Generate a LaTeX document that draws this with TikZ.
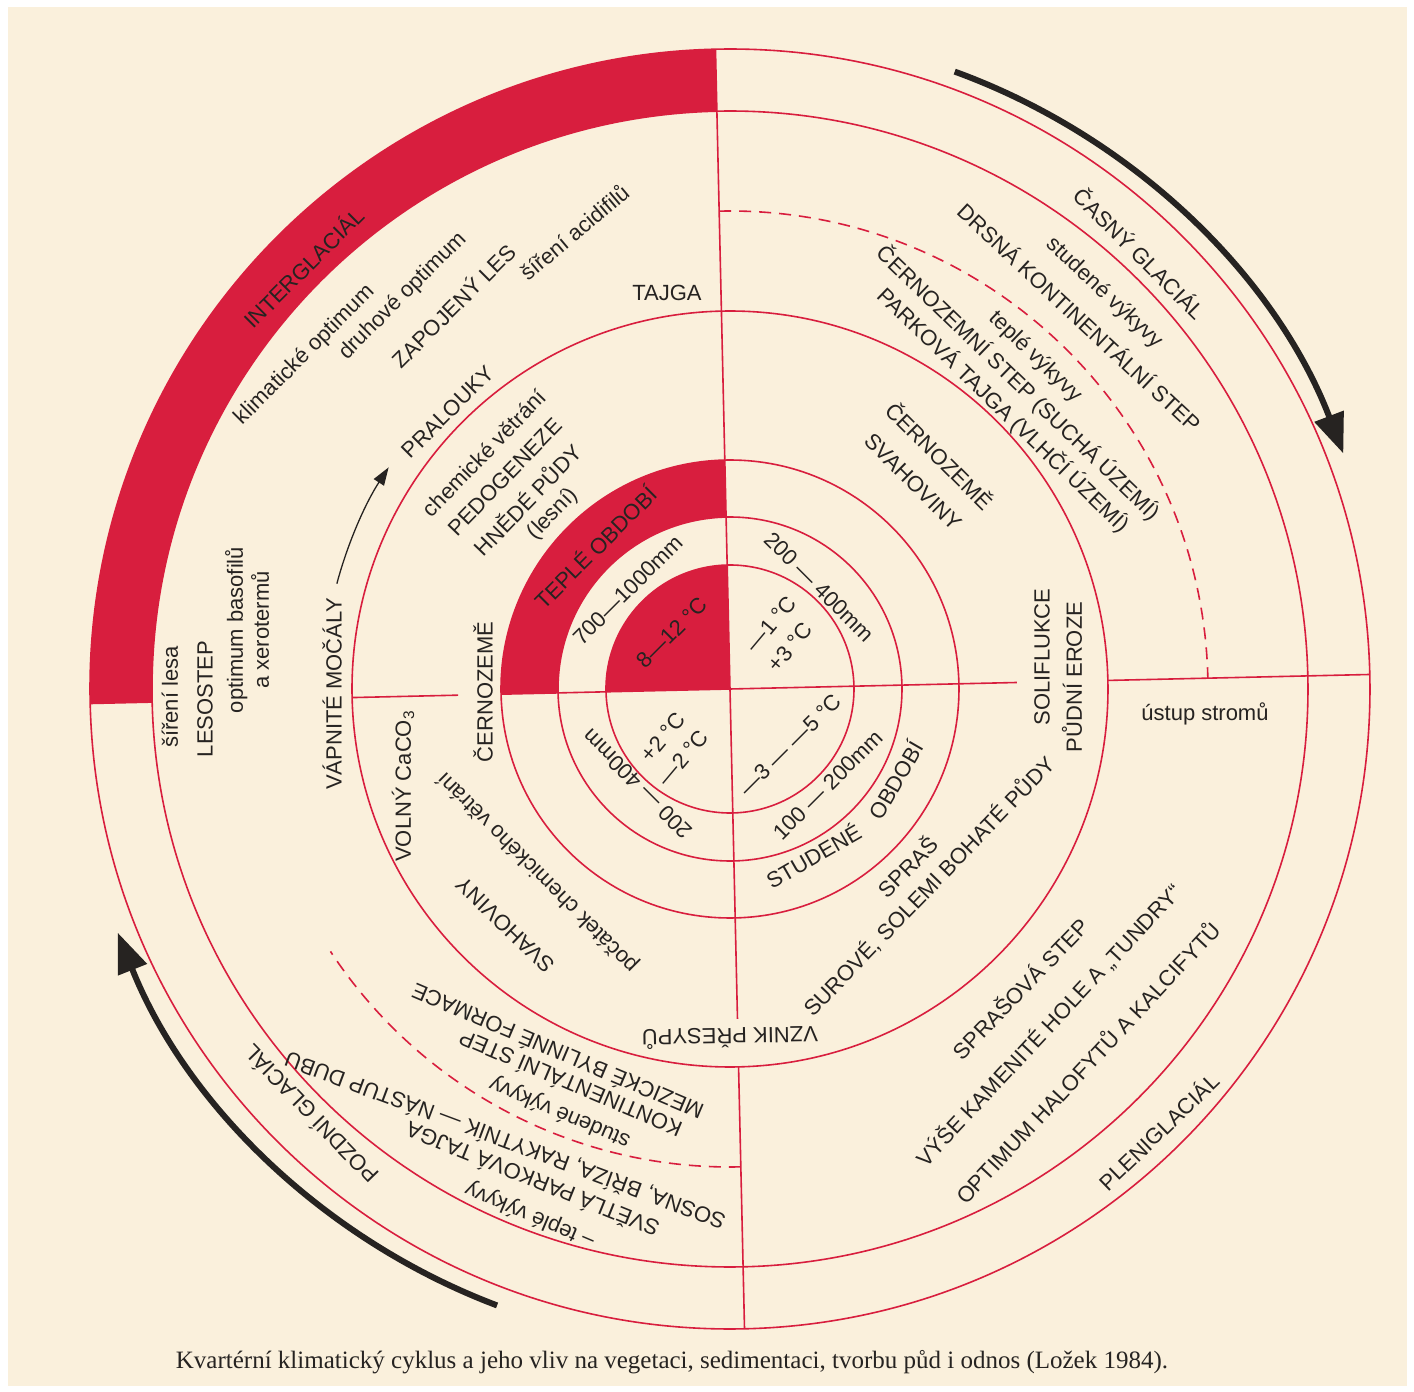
\documentclass[tikz,border=0pt]{standalone}
\usepackage{fontspec}
\setmainfont{Liberation Sans}
\newfontfamily\capfont{Liberation Serif}
\usetikzlibrary{arrows.meta}
\definecolor{cream}{RGB}{250,240,220}
\definecolor{rd}{RGB}{216,30,62}
\definecolor{ink}{RGB}{38,35,33}
\begin{document}
\begin{tikzpicture}[x=0.5pt,y=0.5pt,
  lbl/.style={font=\fontsize{11}{13}\selectfont, text=ink, inner sep=0pt, align=center},
  rl/.style={draw=rd, line width=0.8pt},
  dsh/.style={draw=rd, line width=0.8pt, dash pattern=on 6pt off 4pt},
  bigarrow/.style={draw=ink, line width=3pt, -{Triangle[length=20pt,width=15pt]}},
  thinarrow/.style={draw=ink, line width=0.65pt, -{Triangle[length=9pt,width=6pt]}}
]
\useasboundingbox (-730,-703) rectangle (684,689);
\fill[white] (-730,-703) rectangle (684,689);
\fill[cream] (-722,-697) rectangle (677,682);

\begin{scope}[rotate=1.3]
  % red fills
  \fill[rd] (90:640) arc[start angle=90,end angle=180,radius=640] -- (180:578) arc[start angle=180,end angle=90,radius=578] -- cycle;
  \fill[rd] (90:229) arc[start angle=90,end angle=180,radius=229] -- (180:172) arc[start angle=180,end angle=90,radius=172] -- cycle;
  \fill[rd] (0,0) -- (90:124) arc[start angle=90,end angle=180,radius=124] -- cycle;
  % circles
  \draw[rl] (0,0) circle (640);
  \draw[rl] (0,0) circle (578);
  \draw[rl] (0,0) circle (378);
  \draw[rl] (0,0) circle (229);
  \draw[rl] (0,0) circle (172);
  \draw[rl] (0,0) circle (124);
  % dashed arcs
  \draw[dsh] (90:478) arc[start angle=90,end angle=0,radius=478];
  \draw[dsh] (270:478) arc[start angle=270,end angle=212,radius=478];
  % dividing lines
  \draw[rl] (90:640) -- (270:330);
  \draw[rl] (270:378) -- (270:640);
  \draw[rl] (180:640) -- (180:578);
  \draw[rl] (180:378) -- (180:272);
  \draw[rl] (180:229) -- (0:287);
  \draw[rl] (0:378) -- (0:640);
\end{scope}

% big arrows
\coordinate (a1s) at (70:657);
\draw[bigarrow] (a1s) arc[start angle=70,end angle=21,radius=657];
\coordinate (a2s) at (249.3:659);
\draw[bigarrow] (a2s) arc[start angle=249.3,end angle=201.7,radius=659];
\coordinate (a3s) at (165:407);
\draw[thinarrow] (a3s) arc[start angle=165,end angle=147,radius=407];

% upper-left quadrant
\node[lbl,rotate=45] (n1) at (-427,422) {INTERGLACIÁL};
\node[lbl,rotate=45] (n2) at (-425,334) {klimatické optimum};
\node[lbl,rotate=45] (n3) at (-327,393) {druhové optimum};
\node[lbl,rotate=45] (n4) at (-277,384) {ZAPOJENÝ LES};
\node[lbl,rotate=40] (n5) at (-156,457) {šíření acidifilů};
\node[lbl] (n6) at (-63,396) {TAJGA};
\node[lbl,rotate=45] (n7) at (-282,277) {PRALOUKY};
\node[lbl,rotate=46] (n8) at (-246,236) {chemické větrání};
\node[lbl,rotate=46] (n9) at (-225,212) {PEDOGENEZE};
\node[lbl,rotate=46] (n10) at (-203,190) {HNĚDÉ PŮDY};
\node[lbl,rotate=46] (n11) at (-177,175) {(lesní)};
\node[lbl,rotate=45] (n12) at (-135,142) {TEPLÉ OBDOBÍ};
\node[lbl,rotate=45] (n13) at (-102,99) {700—1000mm};
\node[lbl,rotate=45] (n14) at (-58,56) {8—12 °C};

% left side
\node[lbl,rotate=90] (n15) at (-560,-8) {šíření lesa};
\node[lbl,rotate=90] (n16) at (-525,-10) {LESOSTEP};
\node[lbl,rotate=90] (n17) at (-483,59) {optimum basofilů\\a xerotermů};
\node[lbl,rotate=90] (n19) at (-398,-5) {VÁPNITÉ MOČÁLY};
\node[lbl,rotate=90] (n20) at (-247,-3) {ČERNOZEMĚ};
\node[lbl,rotate=90] (n21) at (-327,-97) {VOLNÝ CaCO\textsubscript{3}};

% lower-left quadrant
\node[lbl,rotate=136] (b1) at (-225,-236) {SVAHOVINY};
\node[lbl,rotate=135] (b2) at (-192,-183) {počátek chemického větrání};
\node[lbl,rotate=135] (b3) at (-93,-95) {200 — 400mm};
\node[lbl,rotate=50] (b4) at (-67,-48) {+2 °C};
\node[lbl,rotate=50] (b5) at (-47,-69) {—2 °C};
\node[lbl,rotate=181] (b6) at (0,-349) {VZNIK PŘESYPŮ};
\node[lbl,rotate=157] (b7) at (-173,-364) {MEZICKÉ BYLINNÉ FORMACE};
\node[lbl,rotate=157] (b8) at (-160,-396) {KONTINENTÁLNÍ STEP};
\node[lbl,rotate=157] (b9) at (-170,-423) {studené výkyvy};
\node[lbl,rotate=159.5] (b10) at (-225,-452) {SOSNA, BŘÍZA, RAKYTNÍK — NÁSTUP DUBU};
\node[lbl,rotate=158] (b11) at (-198,-492) {SVĚTLÁ PARKOVÁ TAJGA};
\node[lbl,rotate=157] (b12) at (-200,-526) {– teplé výkyvy};
\node[lbl,rotate=134] (b13) at (-420,-426) {POZDNÍ GLACIÁL};

% lower-right quadrant
\node[lbl,rotate=45] (c1) at (60,-56) {—3 — —5 °C};
\node[lbl,rotate=45] (c2) at (98,-96) {100 — 200mm};
\node[lbl,rotate=30] (c3) at (83,-166) {STUDENÉ};
\node[lbl,rotate=60] (c4) at (165,-91) {OBDOBÍ};
\node[lbl,rotate=45] (c5) at (177,-177) {SPRAŠ};
\node[lbl,rotate=46] (c6) at (199,-197) {SUROVÉ, SOLEMI BOHATÉ PŮDY};
\node[lbl,rotate=90] (c7) at (312,32) {SOLIFLUKCE};
\node[lbl,rotate=90] (c8) at (342,12) {PŮDNÍ EROZE};
\node[lbl,rotate=46] (c9) at (290,-299) {SPRAŠOVÁ STEP};
\node[lbl,rotate=47] (c10) at (319,-336) {VÝŠE KAMENITÉ HOLE A „TUNDRY“};
\node[lbl,rotate=47] (c11) at (357,-373) {OPTIMUM HALOFYTŮ A KALCIFYTŮ};
\node[lbl,rotate=44] (c12) at (428,-442) {PLENIGLACIÁL};
\node[lbl] (c13) at (475,-25) {ústup stromů};

% upper-right quadrant
\node[lbl,rotate=-45] (d1) at (410,436) {ČASNÝ GLACIÁL};
\node[lbl,rotate=-43] (d2) at (374,396) {studené výkyvy};
\node[lbl,rotate=-43] (d3) at (350,372) {DRSNÁ KONTINENTÁLNÍ STEP};
\node[lbl,rotate=-44] (d4) at (305,332) {teplé výkyvy};
\node[lbl,rotate=-44] (d5) at (288,306) {ČERNOZEMNÍ STEP (SUCHÁ ÚZEMÍ)};
\node[lbl,rotate=-44] (d6) at (273,279) {PARKOVÁ TAJGA (VLHČÍ ÚZEMÍ)};
\node[lbl,rotate=-45] (d7) at (210,234) {ČERNOZEMĚ};
\node[lbl,rotate=-45] (d8) at (183,207) {SVAHOVINY};
\node[lbl,rotate=-45] (d9) at (89,102) {200 — 400mm};
\node[lbl,rotate=50] (d10) at (41,65) {—1 °C};
\node[lbl,rotate=50] (d11) at (60,42) {+3 °C};

% caption
\node[font=\capfont\fontsize{12.5}{14}\selectfont, text=ink, inner sep=0pt] (cap) at (-58,-673)
  {Kvartérní klimatický cyklus a jeho vliv na vegetaci, sedimentaci, tvorbu půd i odnos (Ložek 1984).};
\end{tikzpicture}
\end{document}
